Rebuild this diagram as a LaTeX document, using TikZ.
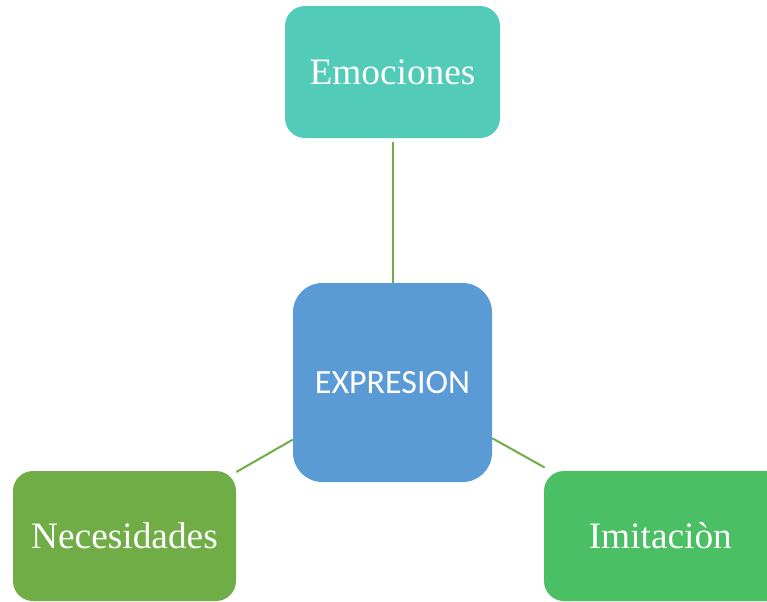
\documentclass[tikz,border=0pt]{standalone}
\usepackage{fontspec}
\setmainfont{Liberation Serif}
\newfontfamily\calib{Carlito}
\definecolor{emoc}{HTML}{52CBB8}
\definecolor{exprc}{HTML}{5B9BD5}
\definecolor{necc}{HTML}{70AD47}
\definecolor{imic}{HTML}{4ABF64}
\definecolor{linec}{HTML}{70AD47}
\tikzset{
  box/.style={rounded corners=15pt, inner sep=0pt, text=white, font=\fontsize{28}{31}\selectfont},
  conn/.style={draw=linec, line width=1.5pt}
}
\begin{document}
\begin{tikzpicture}[x=0.75pt,y=-0.75pt]
\useasboundingbox (0,0) rectangle (767,601);
\node[box, fill=emoc, minimum width=161.25pt, minimum height=99pt] (emo) at (392.5,72) {Emociones};
\node[box, fill=exprc, rounded corners=22pt, minimum width=149.25pt, minimum height=149.25pt, font=\calib\fontsize{25.5}{29}\selectfont] (expr) at (392.5,382.5) {EXPRESION};
\node[box, fill=necc, minimum width=167.25pt, minimum height=97.5pt] (nec) at (124.5,536) {Necesidades};
\node[box, fill=imic, minimum width=184.5pt, minimum height=97.5pt] (imi) at (667,536) {Imitaciòn\hspace*{10pt}};
\draw[conn, shorten <=3pt] (emo) -- (expr);
\draw[conn] (nec) -- (expr);
\draw[conn, shorten <=5pt] (imi) -- (expr);
\end{tikzpicture}
\end{document}
